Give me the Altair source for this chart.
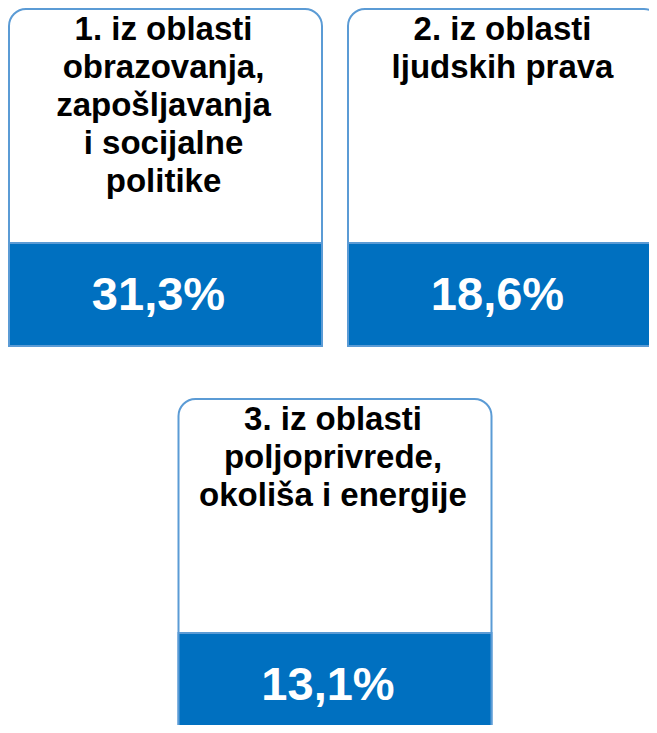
import altair as alt
import pandas as pd

# ---- data ----
categories = [
    "1. iz oblasti\nobrazovanja,\nzapošljavanja\ni socijalne\npolitike",
    "2. iz oblasti\nljudskih prava",
    "3. iz oblasti\npoljoprivrede,\nokoliša i energije",
]
values = [31.3, 18.6, 13.1]

# ---- layout (page pixel units) ----
CARD_W = 313
COL_LEFT = [9, 348]
ROW_TOP = [9, 399]
WHITE_H = 234
BLUE_H = 103
LABEL_BASE = 31
VALUE_BASE = 67

rows = []
n = len(categories)
for i, (lab, v) in enumerate(zip(categories, values)):
    r = i // 2
    last_odd = (i == n - 1) and (n % 2 == 1)
    if last_odd:
        left = (COL_LEFT[0] + COL_LEFT[1] + CARD_W) / 2 - CARD_W / 2
    else:
        left = COL_LEFT[i % 2]
    top = ROW_TOP[r]
    rows.append(dict(
        label=lab,
        value=v,
        value_text=f"{v:.1f}".replace(".", ",") + "%",
        x0=left, x1=left + CARD_W, cx=left + CARD_W / 2,
        top=top, mid=top + WHITE_H, bottom=top + WHITE_H + BLUE_H,
        label_y=top + LABEL_BASE, value_y=top + WHITE_H + VALUE_BASE,
    ))
df = pd.DataFrame(rows)

W, H = 641, 717
xs = alt.Scale(domain=[8, 8 + W], nice=False, zero=False)
ys = alt.Scale(domain=[8, 8 + H], nice=False, zero=False, reverse=True)

BORDER = "#5B9BD5"
BLUE = "#0070C0"
FONT = "Liberation Sans"

base = alt.Chart(df)

card = base.mark_rect(
    fill="white", stroke=BORDER, strokeWidth=2,
    cornerRadiusTopLeft=17, cornerRadiusTopRight=17,
).encode(
    x=alt.X("x0:Q", scale=xs, axis=None),
    x2="x1:Q",
    y=alt.Y("top:Q", scale=ys, axis=None),
    y2="bottom:Q",
)

band = base.mark_rect(fill=BLUE, stroke=BORDER, strokeWidth=2).encode(
    x=alt.X("x0:Q", scale=xs, axis=None),
    x2="x1:Q",
    y=alt.Y("mid:Q", scale=ys, axis=None),
    y2="bottom:Q",
)

labels = base.mark_text(
    align="center", baseline="alphabetic", lineBreak="\n", lineHeight=38,
    fontSize=33, fontWeight="bold", font=FONT, color="black", dx=-2,
).encode(
    x=alt.X("cx:Q", scale=xs, axis=None),
    y=alt.Y("label_y:Q", scale=ys, axis=None),
    text="label:N",
)

vals = base.mark_text(
    align="center", baseline="alphabetic",
    fontSize=47, fontWeight="bold", font=FONT, color="white", dx=-7,
).encode(
    x=alt.X("cx:Q", scale=xs, axis=None),
    y=alt.Y("value_y:Q", scale=ys, axis=None),
    text="value_text:N",
)

chart = alt.layer(card, band, labels, vals).properties(
    width=W, height=H, padding=0,
    autosize=alt.AutoSizeParams(type="none"),
    background="white",
).configure_view(strokeWidth=0)

chart.save("out.html", embed_options={"renderer": "svg", "actions": False})
